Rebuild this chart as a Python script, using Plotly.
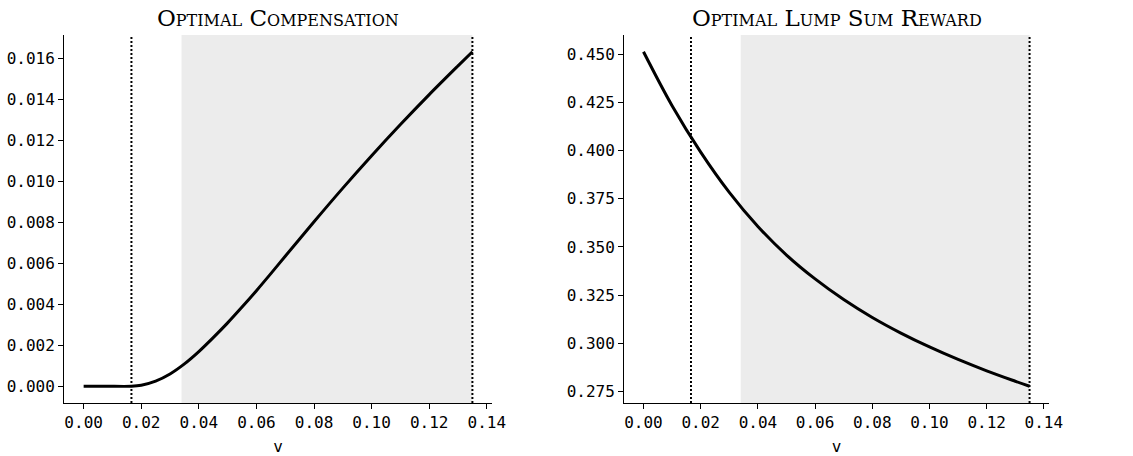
import plotly.graph_objects as go

# Grid of v values and the two policy curves
v_comp = [0.0, 0.008, 0.0166, 0.020, 0.025, 0.030, 0.035, 0.040, 0.045, 0.050,
          0.055, 0.060, 0.065, 0.070, 0.080, 0.090, 0.100, 0.110, 0.120, 0.130, 0.135]
compensation = [0.0, 0.0, 0.0, 0.00005, 0.00025, 0.00060, 0.00109, 0.00169, 0.00237, 0.00309,
                0.00386, 0.00466, 0.00549, 0.00634, 0.00802, 0.00966, 0.01124, 0.01276,
                0.01422, 0.01562, 0.01631]

v_reward = [0.0, 0.010, 0.020, 0.030, 0.040, 0.050, 0.060, 0.070, 0.080, 0.090,
            0.100, 0.110, 0.120, 0.130, 0.135]
lump_sum = [0.4513, 0.4233, 0.3992, 0.3783, 0.3606, 0.3458, 0.3334, 0.3227, 0.3134, 0.3053,
            0.2981, 0.2916, 0.2857, 0.2803, 0.2777]

# Region markers
v_lower = 0.0166        # dotted line
v_region_start = 0.034  # shaded region start
v_upper = 0.135         # dotted line / shaded region end

titles = ["Optimal Compensation", "Optimal Lump Sum Reward"]
x_label = "v"

MONO = "DejaVu Sans Mono"
SERIF = "DejaVu Serif"

LEFT_DOM = [65 / 1133, 498 / 1133]
RIGHT_DOM = [632 / 1133, 1062 / 1133]
Y_DOM = [1 - 403 / 456, 1 - 35 / 456]

fig = go.Figure()

fig.add_trace(go.Scatter(x=v_comp, y=compensation, mode="lines",
                         line=dict(color="black", width=3, shape="spline", smoothing=0.8),
                         xaxis="x", yaxis="y", showlegend=False))
fig.add_trace(go.Scatter(x=v_reward, y=lump_sum, mode="lines",
                         line=dict(color="black", width=3, shape="spline", smoothing=1.0),
                         xaxis="x2", yaxis="y2", showlegend=False))

shapes = []
for xr, yr in (("x", "y"), ("x2", "y2")):
    shapes.append(dict(type="rect", xref=xr, yref=f"{yr} domain",
                       x0=v_region_start, x1=v_upper, y0=0, y1=1,
                       fillcolor="#ececec", line=dict(width=0), layer="below"))
    for xv in (v_lower, v_upper):
        shapes.append(dict(type="line", xref=xr, yref=f"{yr} domain",
                           x0=xv, x1=xv, y0=0, y1=1,
                           line=dict(color="black", width=2, dash="2px,2px")))


def padded_range(vals):
    lo, hi = min(vals), max(vals)
    m = (hi - lo) * 0.05
    return [lo - m, hi + m]


x_rng = padded_range(v_comp)

axis_common = dict(showline=True, linecolor="black", linewidth=1.3,
                   ticks="outside", ticklen=5, tickwidth=1.3, tickcolor="black",
                   showgrid=False, zeroline=False, mirror=False,
                   tickfont=dict(family=MONO, size=16, color="black"))
x_title = dict(text=x_label, font=dict(family=MONO, size=16, color="black"), standoff=9)

fig.update_layout(
    width=1133, height=456,
    margin=dict(l=0, r=0, t=0, b=0),
    paper_bgcolor="white", plot_bgcolor="white",
    shapes=shapes,
    xaxis=dict(domain=LEFT_DOM, range=x_rng, dtick=0.02, tick0=0,
               tickformat=".2f", anchor="y", title=x_title, **axis_common),
    yaxis=dict(domain=Y_DOM, range=padded_range(compensation),
               dtick=0.002, tick0=0, tickformat=".3f", anchor="x", **axis_common),
    xaxis2=dict(domain=RIGHT_DOM, range=x_rng, dtick=0.02, tick0=0,
                tickformat=".2f", anchor="y2", title=x_title, **axis_common),
    yaxis2=dict(domain=Y_DOM, range=padded_range(lump_sum),
                dtick=0.025, tick0=0, tickformat=".3f", anchor="x2", **axis_common),
)

for title, xd in zip(titles, (LEFT_DOM, RIGHT_DOM)):
    fig.add_annotation(text=title, xref="paper", yref="paper",
                       x=(xd[0] + xd[1]) / 2, y=1 - 33 / 456, xanchor="center", yanchor="bottom",
                       showarrow=False,
                       font=dict(family=SERIF, size=23, color="black", variant="small-caps"))

fig.write_html("out.html")
